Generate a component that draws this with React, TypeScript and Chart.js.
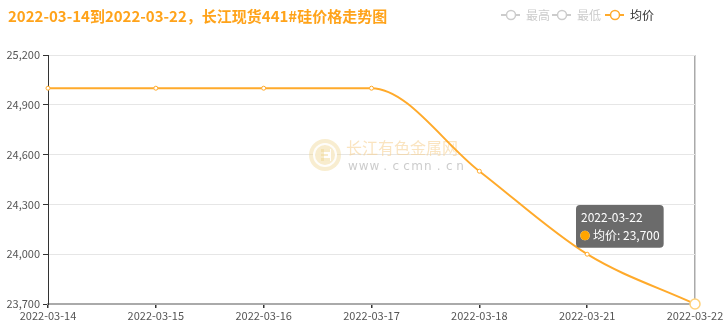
import React, { useEffect, useRef } from 'react';
import { Chart, registerables, Tooltip } from 'chart.js';

Chart.register(...registerables);

const titleText = '2022-03-14到2022-03-22，长江现货441#硅价格走势图';
const dates = ['2022-03-14', '2022-03-15', '2022-03-16', '2022-03-17', '2022-03-18', '2022-03-21', '2022-03-22'];
const avgPrice = [25000, 25000, 25000, 25000, 24500, 24000, 23700];
const yMin = 23700;
const yMax = 25200;
const yStep = 300;
const legendNames = ['最高', '最低', '均价'];
const legendActive = [false, false, true];
const seriesName = '均价';
const watermarkName = '长江有色金属网';
const watermarkUrl = 'www.ccmn.cn';
const activeIndex = 6;

const ORANGE = '#ffaa2b';
const TITLE_ORANGE = '#ffa31a';
const FONT = "'Microsoft YaHei', 'Noto Sans CJK SC', sans-serif";

(Tooltip as any).positioners.fixedOffset = function (items: any[]) {
  if (!items.length) return false;
  const el = items[0].element;
  return { x: el.x - 115, y: el.y - 99, xAlign: 'left', yAlign: 'top' };
};

const decorPlugin = {
  id: 'decor',
  beforeDatasetsDraw(chart: any) {
    const ctx = chart.ctx;
    ctx.save();
    // watermark icon
    const cx = 325, cy = 155;
    ctx.beginPath();
    ctx.arc(cx, cy, 16, 0, Math.PI * 2);
    ctx.fillStyle = 'rgba(240,215,150,0.45)';
    ctx.fill();
    ctx.beginPath();
    ctx.arc(cx, cy, 12, 0, Math.PI * 2);
    ctx.fillStyle = 'rgba(255,255,255,0.9)';
    ctx.fill();
    ctx.beginPath();
    ctx.arc(cx, cy, 10, 0, Math.PI * 2);
    ctx.fillStyle = 'rgba(240,215,150,0.45)';
    ctx.fill();
    ctx.fillStyle = 'rgba(255,255,255,0.95)';
    ctx.fillRect(cx - 4, cy - 6, 10, 12);
    ctx.fillStyle = 'rgba(240,215,150,0.5)';
    ctx.fillRect(cx - 4, cy - 6, 3, 12);
    ctx.fillRect(cx - 4, cy - 6, 9, 3);
    ctx.fillRect(cx - 4, cy + 3, 9, 3);
    ctx.fillRect(cx - 4, cy - 1, 7, 2);
    // watermark text
    ctx.font = `16px ${FONT}`;
    ctx.textBaseline = 'middle';
    ctx.textAlign = 'left';
    ctx.fillStyle = 'rgba(245,205,140,0.55)';
    ctx.fillText(watermarkName, 346, 148);
    ctx.font = `12px 'DejaVu Sans', sans-serif`;
    ctx.fillStyle = 'rgba(170,170,170,0.6)';
    const chars = watermarkUrl.split('');
    const step = 107 / (chars.length - 1);
    chars.forEach((c, i) => {
      ctx.textAlign = 'center';
      ctx.fillText(c, 353 + i * step, 167);
    });
    ctx.restore();
  },
  afterDraw(chart: any) {
    const ctx = chart.ctx;
    ctx.save();
    // title
    ctx.font = `bold 15px ${FONT}`;
    ctx.fillStyle = TITLE_ORANGE;
    ctx.textBaseline = 'middle';
    ctx.textAlign = 'left';
    ctx.fillText(titleText, 8, 16);
    // legend
    const starts = [501, 552, 605];
    ctx.font = `12px ${FONT}`;
    legendNames.forEach((name, i) => {
      const x0 = starts[i];
      const y = 15;
      const col = legendActive[i] ? ORANGE : '#cccccc';
      ctx.strokeStyle = col;
      ctx.lineWidth = 2;
      ctx.beginPath();
      ctx.moveTo(x0, y);
      ctx.lineTo(x0 + 19, y);
      ctx.stroke();
      ctx.beginPath();
      ctx.arc(x0 + 10, y, 4.5, 0, Math.PI * 2);
      ctx.fillStyle = '#fff';
      ctx.fill();
      ctx.lineWidth = 1.5;
      ctx.stroke();
      ctx.fillStyle = legendActive[i] ? '#333' : '#cccccc';
      ctx.fillText(name, x0 + 25, y);
    });
    ctx.restore();
  },
};

export default function App() {
  const ref = useRef<HTMLCanvasElement>(null);
  useEffect(() => {
    if (!ref.current) return;
    const lastIdx = dates.length - 1;
    const chart = new Chart(ref.current, {
      type: 'line',
      data: {
        labels: dates,
        datasets: [
          {
            label: seriesName,
            data: avgPrice,
            borderColor: ORANGE,
            backgroundColor: '#fff',
            borderWidth: 2,
            cubicInterpolationMode: 'monotone',
            clip: false,
            pointRadius: 2,
            pointBorderWidth: 1,
            pointBackgroundColor: '#fff',
            pointBorderColor: ORANGE,
            pointHoverRadius: 5,
            pointHoverBorderWidth: 1.5,
            pointHoverBackgroundColor: '#fff',
            pointHoverBorderColor: '#ffd27a',
          },
        ],
      },
      options: {
        responsive: false,
        animation: false,
        events: [],
        layout: { padding: { left: 0, top: 55, right: 32, bottom: 0 } },
        plugins: {
          legend: { display: false },
          title: { display: false },
          tooltip: {
            enabled: true,
            position: 'fixedOffset' as any,
            backgroundColor: 'rgba(50,50,50,0.72)',
            titleColor: '#fff',
            bodyColor: '#fff',
            titleFont: { family: FONT, size: 12, weight: 'normal' },
            bodyFont: { family: FONT, size: 12 },
            padding: { top: 5, bottom: 5, left: 5, right: 4 },
            titleMarginBottom: 4,
            caretSize: 0,
            caretPadding: 0,
            cornerRadius: 4,
            displayColors: true,
            usePointStyle: true,
            boxWidth: 8,
            boxHeight: 8,
            boxPadding: 2,
            callbacks: {
              labelColor: () => ({ borderColor: '#ffa500', backgroundColor: '#ffa500', borderWidth: 0 }),
              labelPointStyle: () => ({ pointStyle: 'circle', rotation: 0 }),
            },
          },
        },
        scales: {
          x: {
            type: 'category',
            offset: false,
            afterFit: (s: any) => { s.height = 21; },
            border: { display: true, color: '#aaaaaa', width: 2 },
            grid: {
              display: true,
              drawOnChartArea: true,
              color: (c: any) => (c.index === lastIdx ? '#aaaaaa' : 'rgba(0,0,0,0)'),
              lineWidth: 1.5,
              tickColor: '#333',
              tickLength: 4,
            },
            ticks: {
              color: '#555',
              font: { family: FONT, size: 11 },
              padding: 1,
              maxRotation: 0,
              autoSkip: false,
            },
          },
          y: {
            min: yMin,
            max: yMax,
            afterFit: (s: any) => { s.width = 48; },
            border: { display: true, color: '#333', width: 1 },
            grid: { color: '#e6e6e6', lineWidth: 1, tickColor: '#333', tickLength: 5 },
            ticks: {
              stepSize: yStep,
              color: '#555',
              font: { family: FONT, size: 11 },
              padding: 3,
              callback: (v: any) => Number(v).toLocaleString('en-US'),
            },
          },
        },
      },
      plugins: [decorPlugin],
    } as any);
    const active = [{ datasetIndex: 0, index: activeIndex }];
    chart.setActiveElements(active);
    chart.tooltip!.setActiveElements(active, { x: 0, y: 0 });
    chart.draw();
    return () => chart.destroy();
  }, []);
  return (
    <div style={{ position: 'fixed', left: 0, top: 0, width: 727, height: 325, background: '#fff' }}>
      <canvas ref={ref} width={727} height={325} style={{ display: 'block' }} />
    </div>
  );
}
